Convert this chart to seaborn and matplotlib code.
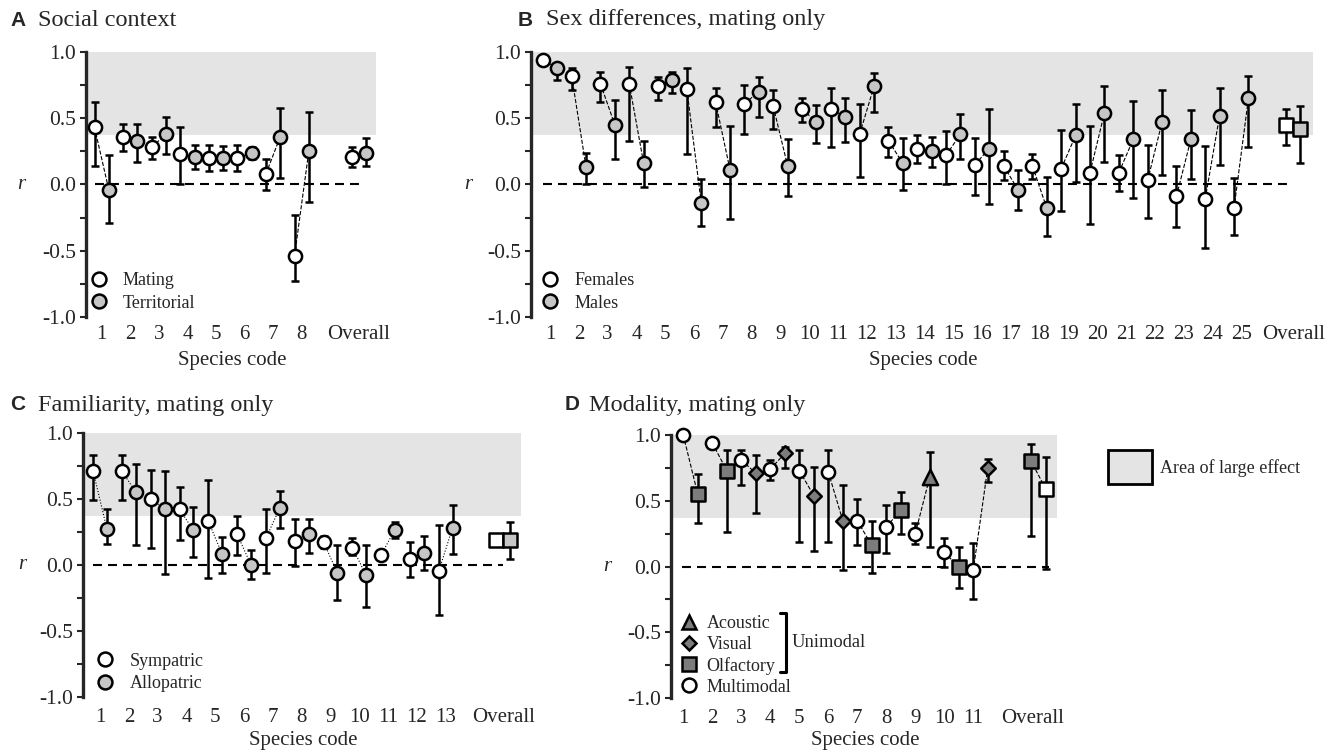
import numpy as np
import pandas as pd
import matplotlib
matplotlib.use("Agg")
import matplotlib.pyplot as plt
import seaborn as sns
from matplotlib.lines import Line2D
from matplotlib.patches import Patch, Rectangle

# threshold of a "large" effect
large_effect = 0.371

# A: social context, species 1-8 + overall
a_ticks = ["1", "2", "3", "4", "5", "6", "7", "8", "Overall"]
a_mating = [0.43, 0.36, 0.28, 0.23, 0.20, 0.20, 0.08, -0.54, 0.21]
a_mating_lo = [0.14, 0.25, 0.19, 0.00, 0.10, 0.10, -0.04, -0.73, 0.13]
a_mating_hi = [0.62, 0.46, 0.36, 0.43, 0.30, 0.30, 0.19, -0.23, 0.28]
a_terr = [-0.04, 0.33, 0.38, 0.21, 0.20, 0.24, 0.36, 0.25, 0.24]
a_terr_lo = [-0.29, 0.17, 0.23, 0.12, 0.11, 0.19, 0.05, -0.13, 0.14]
a_terr_hi = [0.22, 0.46, 0.51, 0.30, 0.29, 0.28, 0.58, 0.55, 0.35]

# B: sex differences, species 1-25 + overall
b_ticks = [str(i) for i in range(1, 26)] + ["Overall"]
b_fem = [0.94, 0.82, 0.76, 0.76, 0.74, 0.72, 0.62, 0.61, 0.59, 0.57, 0.57, 0.38, 0.33,
         0.27, 0.22, 0.15, 0.14, 0.14, 0.12, 0.09, 0.09, 0.03, -0.09, -0.11, -0.18, 0.45]
b_fem_lo = [0.94, 0.71, 0.62, 0.33, 0.64, 0.23, 0.43, 0.38, 0.42, 0.47, 0.28, 0.06, 0.21,
            0.16, 0.005, -0.08, 0.03, 0.04, -0.20, -0.30, -0.05, -0.25, -0.32, -0.48, -0.38, 0.30]
b_fem_hi = [0.94, 0.88, 0.85, 0.89, 0.81, 0.88, 0.73, 0.75, 0.71, 0.65, 0.73, 0.61, 0.43,
            0.37, 0.40, 0.35, 0.25, 0.23, 0.41, 0.44, 0.22, 0.30, 0.14, 0.29, 0.05, 0.57]
b_male = [0.88, 0.13, 0.45, 0.16, 0.79, -0.14, 0.11, 0.70, 0.14, 0.47, 0.51, 0.74, 0.16,
          0.25, 0.38, 0.27, -0.04, -0.18, 0.37, 0.54, 0.34, 0.47, 0.34, 0.52, 0.65, 0.42]
b_male_lo = [0.79, 0.005, 0.19, -0.02, 0.69, -0.31, -0.26, 0.51, -0.09, 0.31, 0.32, 0.55, -0.04,
             0.13, 0.19, -0.15, -0.19, -0.39, 0.02, 0.17, -0.10, 0.07, 0.04, 0.15, 0.28, 0.16]
b_male_hi = [0.92, 0.24, 0.64, 0.33, 0.85, 0.04, 0.44, 0.81, 0.34, 0.60, 0.65, 0.84, 0.35,
             0.36, 0.53, 0.57, 0.11, 0.06, 0.61, 0.74, 0.63, 0.71, 0.56, 0.73, 0.82, 0.59]

# C: familiarity, species 1-13 + overall
c_ticks = [str(i) for i in range(1, 14)] + ["Overall"]
c_sym = [0.71, 0.71, 0.50, 0.42, 0.33, 0.23, 0.20, 0.18, 0.17, 0.13, 0.076, 0.04, -0.05, 0.19]
c_sym_lo = [0.49, 0.49, 0.13, 0.19, -0.10, 0.07, -0.06, -0.01, 0.13, 0.07, 0.076, -0.09, -0.38, 0.15]
c_sym_hi = [0.83, 0.83, 0.72, 0.59, 0.64, 0.37, 0.42, 0.35, 0.22, 0.20, 0.076, 0.17, 0.30, 0.23]
c_allo = [0.27, 0.55, 0.42, 0.26, 0.08, 0.00, 0.43, 0.23, -0.06, -0.08, 0.265, 0.09, 0.28, 0.19]
c_allo_lo = [0.16, 0.15, -0.07, 0.06, -0.06, -0.11, 0.28, 0.09, -0.27, -0.32, 0.20, -0.04, 0.08, 0.04]
c_allo_hi = [0.42, 0.76, 0.71, 0.44, 0.21, 0.11, 0.56, 0.35, 0.15, 0.15, 0.32, 0.22, 0.45, 0.32]

# D: modality, species 1-11 + overall
d_ticks = [str(i) for i in range(1, 12)] + ["Overall"]
d_multi = [1.00, 0.94, 0.81, 0.74, 0.73, 0.72, 0.35, 0.30, 0.25, 0.11, -0.03, 0.59]
d_multi_lo = [1.00, 0.94, 0.62, 0.66, 0.19, 0.19, 0.16, 0.10, 0.17, -0.005, -0.25, -0.02]
d_multi_hi = [1.00, 0.94, 0.89, 0.81, 0.89, 0.89, 0.51, 0.47, 0.33, 0.22, 0.18, 0.83]
d_uni = [0.55, 0.73, 0.71, 0.86, 0.54, 0.35, 0.16, 0.43, 0.68, -0.005, 0.75, 0.80]
d_uni_lo = [0.33, 0.26, 0.41, 0.75, 0.12, -0.03, -0.05, 0.25, 0.15, -0.16, 0.64, 0.23]
d_uni_hi = [0.70, 0.89, 0.85, 0.91, 0.76, 0.62, 0.35, 0.57, 0.87, 0.15, 0.82, 0.93]
d_uni_mode = ["Olfactory", "Olfactory", "Visual", "Visual", "Visual", "Visual",
              "Olfactory", "Olfactory", "Acoustic", "Olfactory", "Visual", "Overall"]

light_grey = "#c6c6c6"
dark_grey = "#7c7c7c"
shade = "#e4e4e4"
mode_marker = {"Acoustic": "^", "Visual": "D", "Olfactory": "s", "Overall": "s"}
mode_size = {"Acoustic": 120, "Visual": 55, "Olfactory": 110, "Overall": 110}

sns.set_style("ticks")
plt.rcParams["font.family"] = ["Liberation Serif", "DejaVu Serif"]

fig = plt.figure(figsize=(13.39, 7.54), dpi=100)


def base_axes(rect, xlim, ticks, tick_pos, zero_from, zero_to, tick_y_pad, xlab_pad):
    ax = fig.add_axes(rect)
    ax.set_xlim(*xlim)
    ax.set_ylim(-1.02, 1.02)
    for s in ["top", "right", "bottom"]:
        ax.spines[s].set_visible(False)
    ax.spines["left"].set_bounds(-1, 1)
    ax.spines["left"].set_linewidth(2.4)
    ax.set_yticks([-1, -0.5, 0, 0.5, 1.0])
    ax.set_yticklabels(["-1.0", "-0.5", "0.0", "0.5", "1.0"])
    ax.set_yticks(np.arange(-1, 1.01, 0.25), minor=True)
    ax.tick_params(axis="y", which="both", length=4, width=1.5, labelsize=15.5, pad=3)
    ax.set_xticks(tick_pos)
    ax.set_xticklabels(ticks)
    ax.tick_params(axis="x", length=0, labelsize=15, pad=tick_y_pad)
    ax.add_patch(Rectangle((xlim[0], large_effect), xlim[1] - 0.1 - xlim[0], 1 - large_effect,
                           facecolor=shade, edgecolor="none", zorder=0))
    ax.plot([zero_from, zero_to], [0, 0], color="black", lw=1.5, dashes=(4.3, 2.9), zorder=1)
    ax._xlab_pad = xlab_pad
    return ax


def finish_labels(ax, r_x):
    ax.set_xlabel("Species code", fontsize=15, labelpad=ax._xlab_pad)
    ax.set_ylabel("r", fontsize=15, style="italic", rotation=0, va="center")
    ax.yaxis.set_label_coords(r_x, 0.5)


def draw_points(ax, x, y, lo, hi, marker, face, size):
    y = np.asarray(y)
    yerr = [y - np.asarray(lo), np.asarray(hi) - y]
    ax.errorbar(x, y, yerr=yerr, fmt="none", ecolor="black", elinewidth=1.8,
                capsize=3, capthick=1.8, zorder=3, clip_on=False)
    sns.scatterplot(x=x, y=y, ax=ax, marker=marker, s=size, color=face,
                    edgecolor="black", linewidth=1.8, zorder=4, clip_on=False, legend=False)


def draw_links(ax, x1, y1, x2, y2, style):
    df = pd.DataFrame({"pair": list(range(len(x1))) * 2,
                       "x": list(x1) + list(x2), "r": list(y1) + list(y2)})
    sns.lineplot(data=df, x="x", y="r", units="pair", estimator=None, sort=False,
                 color="black", lw=0.8, linestyle=style, ax=ax, zorder=2)


def point_legend(ax, labels, faces, anchor):
    handles = [Line2D([], [], ls="none", marker="o", ms=10, mfc=f, mec="black", mew=1.8)
               for f in faces]
    ax.legend(handles, labels, loc="lower left", bbox_to_anchor=anchor, frameon=False,
              fontsize=13, handlelength=1.0, handletextpad=0.85, labelspacing=0.32,
              borderpad=0, borderaxespad=0)


def title(xp, yp, letter, text, gap):
    fig.text(xp / 1339, 1 - yp / 754, letter, family="Liberation Sans", weight="bold",
             fontsize=15, va="center")
    fig.text((xp + gap) / 1339, 1 - yp / 754, text, fontsize=17.5, va="center")


# ---- A ----
a_pos = list(range(1, 9)) + [10]
ax = base_axes([0.0642, 0.5761, 0.2187, 0.3585], (0.45, 10.7), a_ticks, a_pos, 0.77, 10.0, 4, 5)
xm = np.array(a_pos) - 0.25
xt = np.array(a_pos) + 0.25
draw_links(ax, xm, a_mating, xt, a_terr, "--")
draw_points(ax, xm, a_mating, a_mating_lo, a_mating_hi, "o", "white", 90)
draw_points(ax, xt, a_terr, a_terr_lo, a_terr_hi, "o", light_grey, 90)
point_legend(ax, ["Mating", "Territorial"], ["white", light_grey], (0.012, 0.029))
finish_labels(ax, -0.22)
title(10, 20, "A", "Social context", 28)

# ---- B ----
b_pos = list(range(1, 26)) + [26.8]
ax = base_axes([0.3966, 0.5761, 0.5863, 0.3585], (0.34, 27.6), b_ticks, b_pos, 0.75, 26.8, 4, 5)
xf = np.array(b_pos) - 0.25
xm = np.array(b_pos) + 0.25
draw_links(ax, xf, b_fem, xm, b_male, "--")
draw_points(ax, xf[:-1], b_fem[:-1], b_fem_lo[:-1], b_fem_hi[:-1], "o", "white", 90)
draw_points(ax, xm[:-1], b_male[:-1], b_male_lo[:-1], b_male_hi[:-1], "o", light_grey, 90)
draw_points(ax, xf[-1:], b_fem[-1:], b_fem_lo[-1:], b_fem_hi[-1:], "s", "white", 90)
draw_points(ax, xm[-1:], b_male[-1:], b_male_lo[-1:], b_male_hi[-1:], "s", light_grey, 90)
point_legend(ax, ["Females", "Males"], ["white", light_grey], (0.0127, 0.029))
finish_labels(ax, -0.080)
title(518, 20, "B", "Sex differences, mating only", 28)

# ---- C ----
c_pos = list(range(1, 14)) + [15]
ax = base_axes([0.0620, 0.0725, 0.3289, 0.3571], (0.41, 15.7), c_ticks, c_pos, 0.75, 15.0, 6, 3)
xs = np.array(c_pos) - 0.24
xa = np.array(c_pos) + 0.24
draw_links(ax, xs, c_sym, xa, c_allo, ":")
draw_points(ax, xs[:-1], c_sym[:-1], c_sym_lo[:-1], c_sym_hi[:-1], "o", "white", 90)
draw_points(ax, xa[:-1], c_allo[:-1], c_allo_lo[:-1], c_allo_hi[:-1], "o", light_grey, 90)
draw_points(ax, xs[-1:], c_sym[-1:], c_sym_lo[-1:], c_sym_hi[-1:], "s", "white", 90)
draw_points(ax, xa[-1:], c_allo[-1:], c_allo_lo[-1:], c_allo_hi[-1:], "s", light_grey, 90)
point_legend(ax, ["Sympatric", "Allopatric"], ["white", light_grey], (0.030, 0.026))
finish_labels(ax, -0.139)
title(10, 405, "C", "Familiarity, mating only", 28)

# ---- D ----
d_pos = list(range(1, 12)) + [13.05]
ax = base_axes([0.5011, 0.0708, 0.2907, 0.3557], (0.576, 14.0), d_ticks, d_pos, 0.94, 13.6, 6, 2)
xmu = np.array(list(range(1, 12)) + [13.5], dtype=float)
xun = np.array([i + 0.5 for i in range(1, 12)] + [13.0])
draw_links(ax, xmu, d_multi, xun, d_uni, "--")
for mode in ["Acoustic", "Visual", "Olfactory", "Overall"]:
    idx = [i for i, m in enumerate(d_uni_mode) if m == mode]
    draw_points(ax, xun[idx], [d_uni[i] for i in idx], [d_uni_lo[i] for i in idx],
                [d_uni_hi[i] for i in idx], mode_marker[mode], dark_grey, mode_size[mode])
draw_points(ax, xmu[:-1], d_multi[:-1], d_multi_lo[:-1], d_multi_hi[:-1], "o", "white", 90)
draw_points(ax, xmu[-1:], d_multi[-1:], d_multi_lo[-1:], d_multi_hi[-1:], "s", "white", 90)
handles = [
    Line2D([], [], ls="none", marker="^", ms=10.5, mfc=dark_grey, mec="black", mew=1.8),
    Line2D([], [], ls="none", marker="D", ms=7.5, mfc=dark_grey, mec="black", mew=1.8),
    Line2D([], [], ls="none", marker="s", ms=10, mfc=dark_grey, mec="black", mew=1.8),
    Line2D([], [], ls="none", marker="o", ms=10, mfc="white", mec="black", mew=1.8),
]
ax.legend(handles, ["Acoustic", "Visual", "Olfactory", "Multimodal"], loc="lower left",
          bbox_to_anchor=(0.023, 0.018), frameon=False, fontsize=13, handlelength=1.0,
          handletextpad=0.48, labelspacing=0.22, borderpad=0, borderaxespad=0)
ax.plot([4.33, 4.54, 4.54, 4.33], [-0.35, -0.35, -0.80, -0.80], color="black", lw=2.2,
        clip_on=False, zorder=5)
ax.text(4.75, -0.575, "Unimodal", fontsize=13.3, va="center")
finish_labels(ax, -0.163)
title(565, 405, "D", "Modality, mating only", 24)

fig.legend([Patch(facecolor=shade, edgecolor="black", lw=2)], ["Area of large effect"],
           loc="center left", bbox_to_anchor=(1108 / 1339, 1 - 467 / 754), frameon=False,
           fontsize=13, handlelength=2.45, handleheight=2.45, handletextpad=0.45,
           borderpad=0, borderaxespad=0)

fig.savefig("out.png", dpi=100)
